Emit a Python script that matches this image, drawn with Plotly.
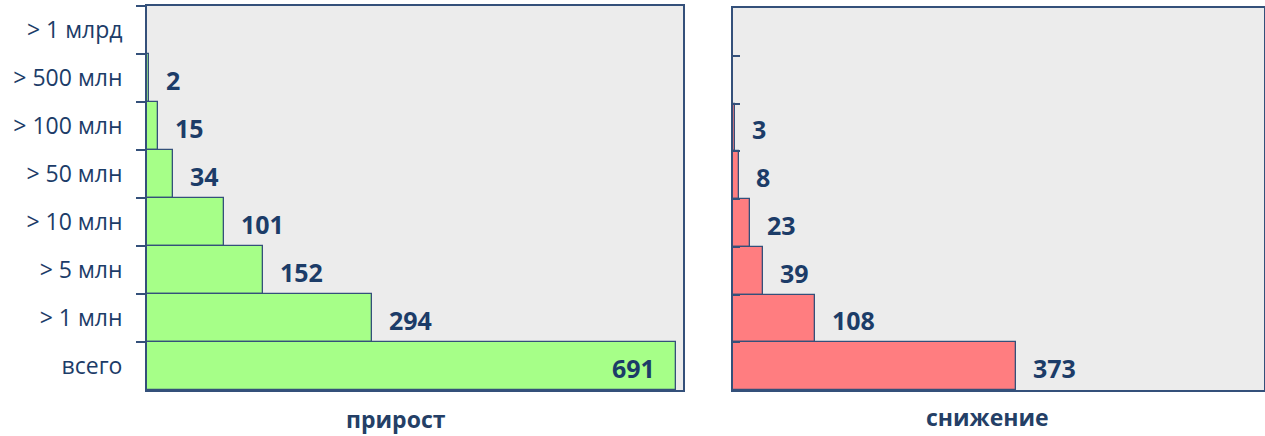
import plotly.graph_objects as go

categories = ["> 1 млрд", "> 500 млн", "> 100 млн", "> 50 млн", "> 10 млн", "> 5 млн", "> 1 млн", "всего"]
growth = [0, 2, 15, 34, 101, 152, 294, 691]
decline = [0, 0, 3, 8, 23, 39, 108, 373]
growth_labels = ["", "2", "15", "34", "101", "152", "294", "691"]
decline_labels = ["", "", "3", "8", "23", "39", "108", "373"]
titles = ["прирост", "снижение"]

NAVY = "#1c3c68"
LINE = "#34507a"
FONT = "Open Sans"
W, HT = 1265, 436

fig = go.Figure()
fig.add_trace(go.Bar(y=categories, x=growth, orientation="h", xaxis="x", yaxis="y",
                     marker=dict(color="#a6ff88", line=dict(color=LINE, width=1.3)),
                     hoverinfo="skip"))
fig.add_trace(go.Bar(y=categories, x=decline, orientation="h", xaxis="x2", yaxis="y2",
                     marker=dict(color="#ff7d80", line=dict(color=LINE, width=1.3)),
                     hoverinfo="skip"))

anns = []
for c, v, t in zip(categories, growth, growth_labels):
    if not t:
        continue
    inside = v > 600
    anns.append(dict(x=v, y=c, xref="x", yref="y", text=t, showarrow=False,
                     xanchor="right" if inside else "left", xshift=-19 if inside else 15, yshift=-2,
                     font=dict(family=FONT, size=25, color=NAVY, weight="bold")))
for c, v, t in zip(categories, decline, decline_labels):
    if not t:
        continue
    anns.append(dict(x=v, y=c, xref="x2", yref="y2", text=t, showarrow=False,
                     xanchor="left", xshift=15, yshift=-2,
                     font=dict(family=FONT, size=25, color=NAVY, weight="bold")))

top, bottom = 6, 390
ph = bottom - top
anns.append(dict(x=396 / W, y=-(419 - bottom) / ph, xref="paper", yref="paper", text=titles[0], showarrow=False,
                 xanchor="center", yanchor="middle",
                 font=dict(family=FONT, size=23, color="#243f66", weight="bold")))
anns.append(dict(x=987 / W, y=-(417 - bottom) / ph, xref="paper", yref="paper", text=titles[1], showarrow=False,
                 xanchor="center", yanchor="middle",
                 font=dict(family=FONT, size=23, color="#243f66", weight="bold")))

axis_common = dict(range=[0, 700], showgrid=False, zeroline=False, showticklabels=False,
                   showline=True, linecolor=LINE, linewidth=2, mirror=True, ticks="")
fig.update_layout(
    width=W, height=HT,
    margin=dict(l=0, r=0, t=top, b=HT - bottom, pad=0),
    paper_bgcolor="white", plot_bgcolor="#ececec",
    showlegend=False, bargap=0,
    xaxis=dict(domain=[147 / W, 683 / W], **axis_common),
    xaxis2=dict(domain=[733 / W, 1264 / W], anchor="y2", **axis_common),
    yaxis=dict(domain=[0, 1], type="category", categoryorder="array", categoryarray=categories,
               autorange="reversed", tickson="boundaries", ticks="outside", ticklen=9,
               tickcolor=LINE, tickwidth=1.5, showline=True, linecolor=LINE, linewidth=2, mirror=True,
               showgrid=False, tickfont=dict(family=FONT, size=23, color=NAVY), ticksuffix="   ",
               anchor="x"),
    yaxis2=dict(domain=[0, (ph - 2) / ph], type="category", categoryorder="array", categoryarray=categories,
                autorange="reversed", tickson="boundaries", ticks="inside", ticklen=7,
                tickcolor=LINE, tickwidth=1.5, showline=True, linecolor=LINE, linewidth=2, mirror=True,
                showgrid=False, showticklabels=False, anchor="x2"),
    annotations=anns,
)

fig.write_html("out.html", config={"displayModeBar": False},
               post_script="document.body.style.margin='0';document.body.style.overflow='hidden';")
